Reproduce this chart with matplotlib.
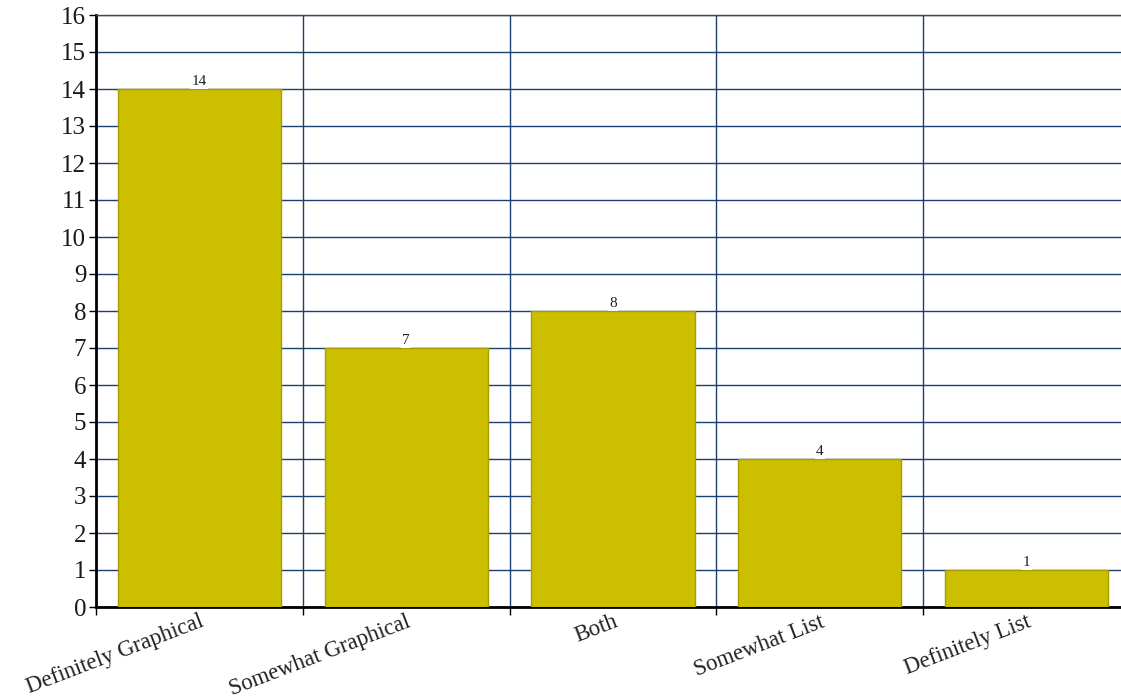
import matplotlib
matplotlib.use("Agg")
import matplotlib.pyplot as plt
from matplotlib.ticker import FixedLocator

categories = ["Definitely Graphical", "Somewhat Graphical", "Both", "Somewhat List", "Definitely List"]
values = [14, 7, 8, 4, 1]
yticks = list(range(0, 17))

W, H = 1121, 700
fig = plt.figure(figsize=(W / 100, H / 100), dpi=100)
left, right, top, bottom = 96, 1130, 15, 607
ax = fig.add_axes([left / W, 1 - bottom / H, (right - left) / W, (bottom - top) / H])

grid_color = "#1c3f6e"
x = list(range(len(categories)))
ax.bar(x, values, width=0.79, color="#ccbf00", edgecolor="#a89d00", linewidth=1, zorder=3)

ax.set_xlim(-0.5, len(categories) - 0.5)
ax.set_ylim(0, 16)
ax.set_yticks(yticks)
ax.set_yticklabels([str(t) for t in yticks], fontsize=18, family="Liberation Serif", color="#1a1a1a")
ax.yaxis.grid(True, color=grid_color, linewidth=1, zorder=0)

ax.set_xticks(x)
ax.set_xticklabels(categories, fontsize=16.5, family="Liberation Serif", rotation=21,
                   ha="right", rotation_mode="anchor", color="#222222")
ax.tick_params(axis="x", length=0, pad=3)
ax.xaxis.set_minor_locator(FixedLocator([i + 0.5 for i in range(len(categories) - 1)] + [-0.5]))
ax.tick_params(axis="x", which="minor", length=6, width=1, color="black", direction="out")
for b in [i + 0.5 for i in range(len(categories) - 1)]:
    ax.axvline(b, color=grid_color, linewidth=1, zorder=0)
ax.tick_params(axis="y", length=5, width=1, pad=2)

for s in ["left", "bottom"]:
    ax.spines[s].set_linewidth(2)
    ax.spines[s].set_color("black")
ax.spines["top"].set_color("#444444")
ax.spines["top"].set_linewidth(1)
ax.spines["right"].set_visible(False)

for xi, v in zip(x, values):
    ax.text(xi, v + 0.04, str(v), ha="center", va="bottom", fontsize=11,
            family="Liberation Serif", color="#222222", zorder=5,
            bbox=dict(facecolor="white", edgecolor="none", pad=1))

fig.savefig("out.png", dpi=100)
